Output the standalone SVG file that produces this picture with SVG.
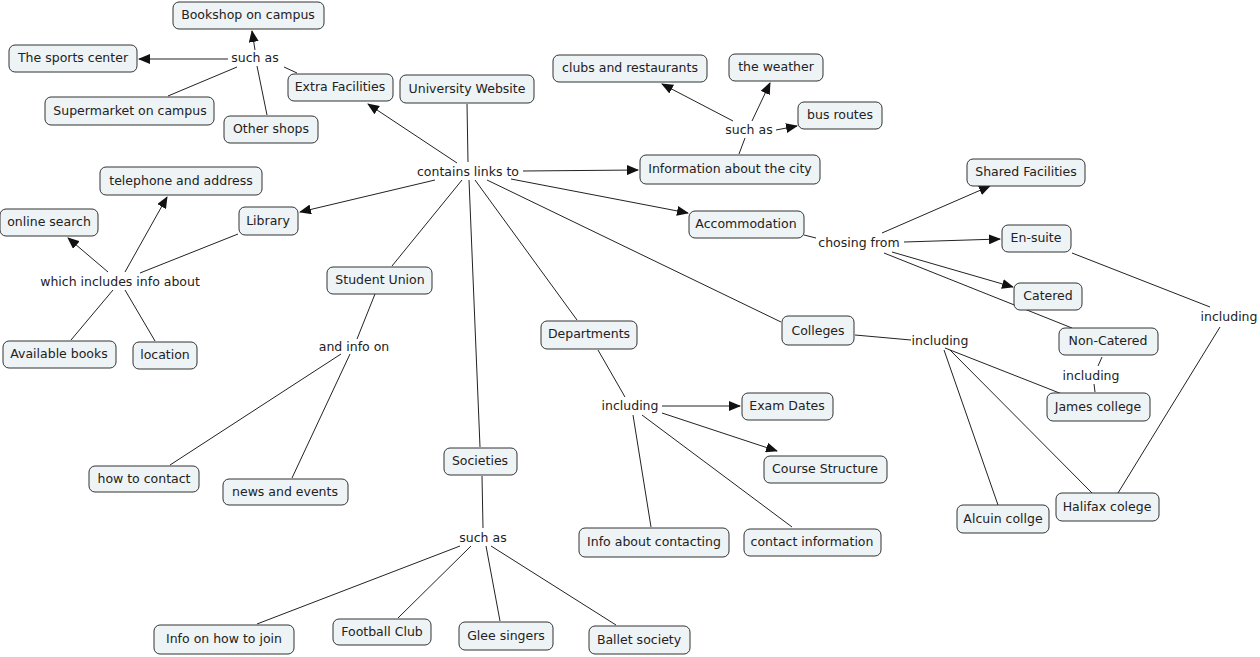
<svg xmlns="http://www.w3.org/2000/svg" width="1260" height="657" viewBox="0 0 1260 657">
<defs>
<style>
.n rect{fill:#eef3f5;stroke:#333;stroke-width:1;}
text{font-family:"DejaVu Sans",Verdana,sans-serif;font-size:12.5px;fill:#222;text-anchor:middle;}
.c line{stroke:#222;stroke-width:1;fill:none;}
.a{marker-end:url(#ah);}
</style>
<marker id="ah" markerWidth="12" markerHeight="10" refX="11" refY="5" orient="auto" markerUnits="userSpaceOnUse">
<path d="M0,0 L12,5 L0,10 Z" fill="#111"/>
</marker>
</defs>
<rect width="1260" height="657" fill="#fff"/>
<g id="connectors" class="c">
<line x1="467" y1="104" x2="468" y2="162"/>
<line class="a" x1="457" y1="163" x2="368" y2="104"/>
<line class="a" x1="523" y1="171" x2="638" y2="170"/>
<line class="a" x1="435" y1="180" x2="300" y2="212"/>
<line class="a" x1="511" y1="179" x2="688" y2="213"/>
<line x1="462" y1="180" x2="392" y2="266"/>
<line x1="469" y1="180" x2="480" y2="447"/>
<line x1="475" y1="180" x2="577" y2="320"/>
<line x1="487" y1="180" x2="781" y2="322"/>
<line x1="297" y1="73" x2="284" y2="67"/>
<line x1="267" y1="115" x2="257" y2="66"/>
<line class="a" x1="255" y1="50" x2="252" y2="31"/>
<line class="a" x1="228" y1="59" x2="139" y2="59"/>
<line x1="237" y1="67" x2="168" y2="96"/>
<line x1="739" y1="154" x2="745" y2="138"/>
<line class="a" x1="752" y1="121" x2="770" y2="83"/>
<line class="a" x1="733" y1="121" x2="662" y2="84"/>
<line class="a" x1="776" y1="130" x2="797" y2="126"/>
<line x1="804" y1="235" x2="816" y2="238"/>
<line class="a" x1="882" y1="233" x2="990" y2="186"/>
<line class="a" x1="904" y1="242" x2="1000" y2="239"/>
<line class="a" x1="892" y1="252" x2="1013" y2="287"/>
<line x1="884" y1="253" x2="1072" y2="328"/>
<line x1="1072" y1="253" x2="1210" y2="307"/>
<line x1="1220" y1="327" x2="1118" y2="493"/>
<line x1="855" y1="335" x2="911" y2="340"/>
<line x1="945" y1="348" x2="1062" y2="394"/>
<line x1="950" y1="350" x2="1092" y2="493"/>
<line x1="944" y1="350" x2="998" y2="505"/>
<line x1="1102" y1="357" x2="1098" y2="366"/>
<line x1="1094" y1="384" x2="1095" y2="392"/>
<line x1="238" y1="234" x2="140" y2="273"/>
<line class="a" x1="125" y1="272" x2="167" y2="197"/>
<line class="a" x1="108" y1="272" x2="68" y2="238"/>
<line x1="71" y1="340" x2="113" y2="290"/>
<line x1="155" y1="341" x2="125" y2="290"/>
<line x1="375" y1="294" x2="357" y2="339"/>
<line x1="341" y1="354" x2="170" y2="465"/>
<line x1="350" y1="354" x2="292" y2="478"/>
<line x1="598" y1="350" x2="625" y2="397"/>
<line class="a" x1="662" y1="406" x2="740" y2="406"/>
<line class="a" x1="662" y1="413" x2="777" y2="451"/>
<line x1="633" y1="415" x2="651" y2="527"/>
<line x1="642" y1="415" x2="792" y2="527"/>
<line x1="482" y1="476" x2="483" y2="528"/>
<line x1="460" y1="546" x2="257" y2="624"/>
<line x1="471" y1="546" x2="398" y2="618"/>
<line x1="486" y1="546" x2="500" y2="621"/>
<line x1="491" y1="546" x2="616" y2="625"/>
</g>
<g id="n-bookshop" class="n"><rect x="173" y="2" width="151" height="27" rx="6"/><text x="248" y="19">Bookshop on campus</text></g>
<g id="n-sports" class="n"><rect x="9" y="45" width="128" height="27" rx="6"/><text x="73" y="62">The sports center</text></g>
<g id="n-supermarket" class="n"><rect x="45" y="97" width="169" height="28" rx="6"/><text x="130" y="115">Supermarket on campus</text></g>
<g id="n-othershops" class="n"><rect x="224" y="116" width="94" height="27" rx="6"/><text x="271" y="133">Other shops</text></g>
<g id="n-extra" class="n"><rect x="288" y="74" width="105" height="27" rx="6"/><text x="340" y="91">Extra Facilities</text></g>
<g id="n-website" class="n"><rect x="400" y="75" width="134" height="28" rx="6"/><text x="467" y="93">University Website</text></g>
<g id="n-clubs" class="n"><rect x="553" y="55" width="154" height="27" rx="6"/><text x="630" y="72">clubs and restaurants</text></g>
<g id="n-weather" class="n"><rect x="729" y="54" width="94" height="27" rx="6"/><text x="776" y="71">the weather</text></g>
<g id="n-bus" class="n"><rect x="798" y="102" width="84" height="27" rx="6"/><text x="840" y="119">bus routes</text></g>
<g id="n-city" class="n"><rect x="640" y="155" width="180" height="29" rx="6"/><text x="730" y="173">Information about the city</text></g>
<g id="n-shared" class="n"><rect x="967" y="159" width="118" height="27" rx="6"/><text x="1026" y="176">Shared Facilities</text></g>
<g id="n-accommodation" class="n"><rect x="689" y="211" width="115" height="27" rx="6"/><text x="746" y="228">Accommodation</text></g>
<g id="n-ensuite" class="n"><rect x="1002" y="225" width="69" height="27" rx="6"/><text x="1036" y="242">En-suite</text></g>
<g id="n-catered" class="n"><rect x="1014" y="283" width="68" height="27" rx="6"/><text x="1048" y="300">Catered</text></g>
<g id="n-noncatered" class="n"><rect x="1059" y="328" width="99" height="27" rx="6"/><text x="1108" y="345">Non-Catered</text></g>
<g id="n-james" class="n"><rect x="1047" y="393" width="103" height="28" rx="6"/><text x="1098" y="411">James college</text></g>
<g id="n-colleges" class="n"><rect x="782" y="316" width="72" height="29" rx="6"/><text x="818" y="335">Colleges</text></g>
<g id="n-halifax" class="n"><rect x="1056" y="493" width="103" height="28" rx="6"/><text x="1107" y="511">Halifax colege</text></g>
<g id="n-alcuin" class="n"><rect x="957" y="505" width="92" height="28" rx="6"/><text x="1003" y="523">Alcuin collge</text></g>
<g id="n-telephone" class="n"><rect x="100" y="167" width="162" height="28" rx="6"/><text x="181" y="185">telephone and address</text></g>
<g id="n-online" class="n"><rect x="0" y="209" width="98" height="27" rx="6"/><text x="49" y="226">online search</text></g>
<g id="n-library" class="n"><rect x="239" y="207" width="59" height="28" rx="6"/><text x="268" y="225">Library</text></g>
<g id="n-books" class="n"><rect x="3" y="341" width="113" height="27" rx="6"/><text x="59" y="358">Available books</text></g>
<g id="n-location" class="n"><rect x="133" y="342" width="64" height="27" rx="6"/><text x="165" y="359">location</text></g>
<g id="n-union" class="n"><rect x="327" y="267" width="105" height="27" rx="6"/><text x="380" y="284">Student Union</text></g>
<g id="n-departments" class="n"><rect x="541" y="321" width="96" height="28" rx="6"/><text x="589" y="338">Departments</text></g>
<g id="n-exam" class="n"><rect x="742" y="393" width="91" height="27" rx="6"/><text x="787" y="410">Exam Dates</text></g>
<g id="n-course" class="n"><rect x="764" y="456" width="123" height="27" rx="6"/><text x="825" y="473">Course Structure</text></g>
<g id="n-infocontacting" class="n"><rect x="579" y="528" width="150" height="29" rx="6"/><text x="654" y="546">Info about contacting</text></g>
<g id="n-contactinfo" class="n"><rect x="744" y="529" width="137" height="27" rx="6"/><text x="812" y="546">contact information</text></g>
<g id="n-howcontact" class="n"><rect x="89" y="466" width="110" height="26" rx="6"/><text x="144" y="483">how to contact</text></g>
<g id="n-news" class="n"><rect x="223" y="479" width="125" height="26" rx="6"/><text x="285" y="496">news and events</text></g>
<g id="n-societies" class="n"><rect x="444" y="448" width="73" height="27" rx="6"/><text x="480" y="465">Societies</text></g>
<g id="n-join" class="n"><rect x="154" y="625" width="140" height="29" rx="6"/><text x="224" y="643">Info on how to join</text></g>
<g id="n-football" class="n"><rect x="333" y="619" width="98" height="26" rx="6"/><text x="382" y="636">Football Club</text></g>
<g id="n-glee" class="n"><rect x="459" y="622" width="94" height="28" rx="6"/><text x="506" y="640">Glee singers</text></g>
<g id="n-ballet" class="n"><rect x="589" y="626" width="101" height="28" rx="6"/><text x="639" y="644">Ballet society</text></g>
<g id="phrases">
<text x="255" y="62">such as</text>
<text x="468" y="176">contains links to</text>
<text x="749" y="134">such as</text>
<text x="859" y="247">chosing from</text>
<text x="120" y="286">which includes info about</text>
<text x="354" y="351">and info on</text>
<text x="630" y="410">including</text>
<text x="940" y="345">including</text>
<text x="1091" y="380">including</text>
<text x="1229" y="321">including</text>
<text x="483" y="542">such as</text>
</g>
</svg>
